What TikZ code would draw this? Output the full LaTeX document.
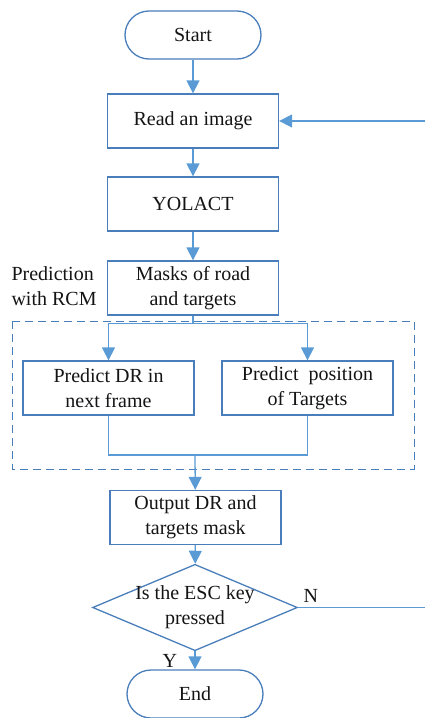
\documentclass[tikz,border=0pt]{standalone}
\usepackage{fontspec}
\setmainfont{Liberation Serif}
\usetikzlibrary{shapes.geometric,arrows.meta}
\definecolor{boxblue}{RGB}{74,126,187}
\definecolor{lineblue}{RGB}{91,155,213}
\definecolor{txt}{RGB}{20,20,20}
\tikzset{
    proc/.style={draw=boxblue,line width=1.3pt,minimum width=171pt,minimum height=54pt,align=center,inner sep=2pt,text=txt},
    term/.style={draw=boxblue,line width=1.3pt,rounded corners=24pt,minimum width=136pt,minimum height=48pt,text=txt},
    decide/.style={diamond,draw=boxblue,line width=1.3pt,aspect=2.37,inner sep=-2.5pt,align=center,text=txt},
    flow/.style={lineblue,line width=1.3pt},
    arr/.style={flow,-{Triangle[width=13pt,length=13pt]}},
    lbl/.style={text=txt}
}

\begin{document}
\begin{tikzpicture}[x=1pt,y=-1pt,font=\fontsize{20}{25}\selectfont]
    \useasboundingbox (0,0) rectangle (425,718);
    \node[term] (start) at (193,35) {Start};
    \node[proc] (read) at (193,121) {Read an image};
    \node[proc] (yolact) at (193,204) {YOLACT};
    \node[proc] (masks) at (193,288) {Masks of road\\and targets};
    \node[lbl,align=left,anchor=west] (rcm) at (8,286) {Prediction\\with RCM};
    \draw[boxblue,line width=1pt,dash pattern=on 8pt off 5pt] (12,321) rectangle (414,469);
    \node[proc] (drpred) at (108.5,388) {Predict DR in\\next frame};
    \node[proc] (pospred) at (307.5,388) {Predict\ \ position\\of Targets};
    \node[proc] (output) at (195.5,517.5) {Output DR and\\targets mask};
    \node[decide] (esc) at (195,607.5) {Is the ESC key\\pressed};
    \node[term] (stop) at (195,694) {End};
    \coordinate (merge) at (195,455);
    \coordinate (nout) at (426,607.5);
    \coordinate (nin) at (426,121);

    \draw[arr] (start) -- (read);
    \draw[arr] (read) -- (yolact);
    \draw[arr] (yolact) -- (masks);
    \draw[arr] (masks.south) -- ++(0,8) -| (drpred.north);
    \draw[arr] (masks.south) -- ++(0,8) -| (pospred.north);
    \draw[flow] (drpred.south) |- (merge) -| (pospred.south);
    \draw[arr] (merge) -- (output);
    \draw[arr] (output) -- (esc);
    \draw[arr] (esc) -- node[lbl,left,xshift=-14pt,yshift=-1pt] (yes) {Y} (stop);
    \draw[flow] (esc.east) -- node[lbl,pos=0.1,above,yshift=1pt] (no) {N} (nout);
    \draw[arr] (nin) -- (read.east);
\end{tikzpicture}
\end{document}
